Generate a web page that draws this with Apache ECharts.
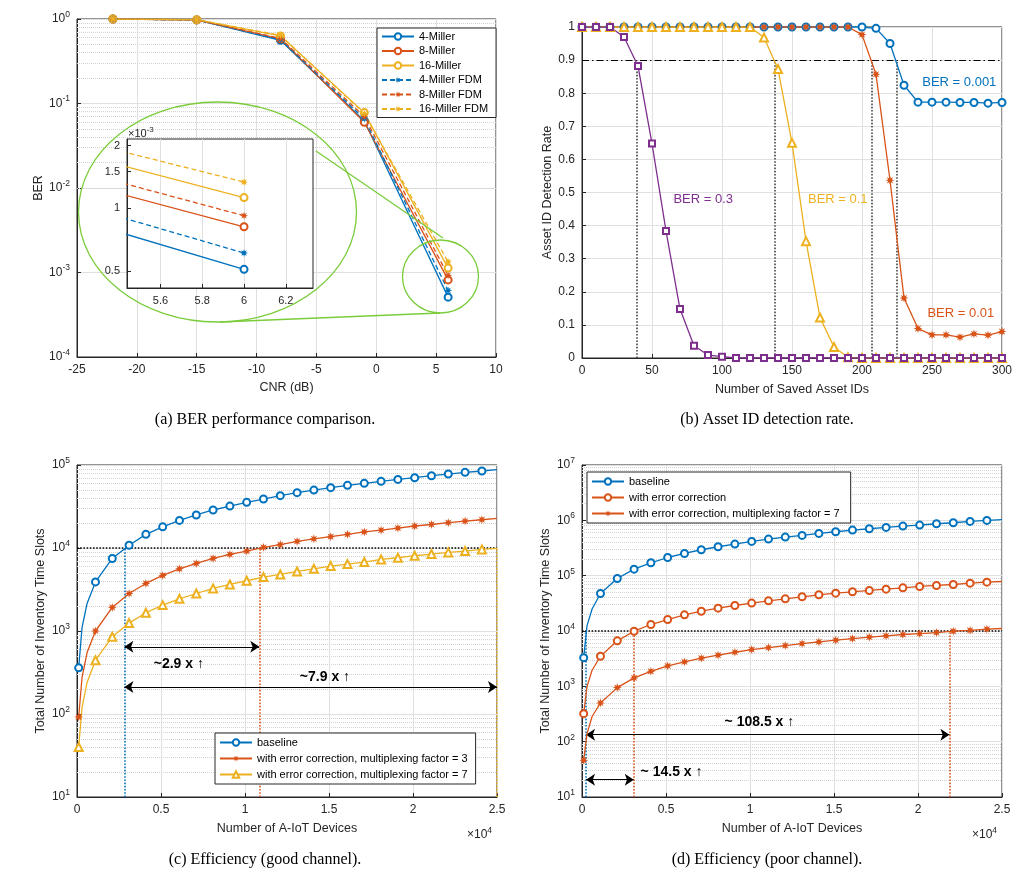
<!DOCTYPE html>
<html>
<head>
<meta charset="utf-8">
<script src="https://cdn.jsdelivr.net/npm/echarts@6/dist/echarts.min.js"></script>
<style>html,body{margin:0;padding:0;background:#fff}#main{width:1020px;height:878px}</style>
</head>
<body>
<div id="main"></div>
<script>
var FONT = '"Liberation Sans", Arial, Helvetica, sans-serif';
var SERIF = '"Liberation Serif", "Times New Roman", serif';
var BLUE = '#0072BD', ORANGE = '#D95319', YELLOW = '#EDB120', PURPLE = '#7E2F8E';
var GREEN = '#7ACC3A', INK = '#262626';

// (a) BER vs CNR
var cnrDb = [-22, -15, -8, -1, 6];
var ber4Miller = [1.0, 0.975, 0.56, 0.062, 0.000511];
var ber8Miller = [1.0, 0.975, 0.58, 0.060, 0.000817];
var ber16Miller = [1.0, 0.98, 0.63, 0.078, 0.001127];
var ber4MillerFdm = [1.0, 0.975, 0.57, 0.066, 0.000612];
var ber8MillerFdm = [1.0, 0.975, 0.59, 0.070, 0.000923];
var ber16MillerFdm = [1.0, 0.98, 0.64, 0.076, 0.001337];
var insetXTicks = [5.6, 5.8, 6, 6.2];
var insetYTicks = [0.0005, 0.001, 0.0015, 0.002];

// (b) asset ID detection rate
var savedIds = [0, 10, 20, 30, 40, 50, 60, 70, 80, 90, 100, 110, 120, 130, 140, 150, 160, 170, 180, 190, 200, 210, 220, 230, 240, 250, 260, 270, 280, 290, 300];
var detBer0001 = [1, 1, 1, 1, 1, 1, 1, 1, 1, 1, 1, 1, 1, 1, 1, 1, 1, 1, 1, 1, 1, 0.996, 0.95, 0.824, 0.773, 0.773, 0.773, 0.772, 0.772, 0.770, 0.772];
var detBer001 = [1, 1, 1, 1, 1, 1, 1, 1, 1, 1, 1, 1, 1, 1, 1, 1, 1, 1, 1, 1, 0.977, 0.857, 0.537, 0.181, 0.089, 0.070, 0.070, 0.063, 0.073, 0.069, 0.080];
var detBer01 = [1, 1, 1, 1, 1, 1, 1, 1, 1, 1, 1, 1, 1, 0.968, 0.873, 0.65, 0.353, 0.122, 0.033, 0.002, 0, 0, 0, 0, 0, 0, 0, 0, 0, 0, 0];
var detBer03 = [1, 1, 1, 0.97, 0.882, 0.648, 0.384, 0.148, 0.037, 0.009, 0.004, 0, 0, 0, 0, 0, 0, 0, 0, 0, 0, 0, 0, 0, 0, 0, 0, 0, 0, 0, 0];
var crossIds = [39, 137.5, 207, 225];
var detThreshold = 0.9;

// (c) / (d) inventory time slots
var devices = [100, 300, 600, 1100, 2100, 3100, 4100, 5100, 6100, 7100, 8100, 9100, 10100, 11100, 12100, 13100, 14100, 15100, 16100, 17100, 18100, 19100, 20100, 21100, 22100, 23100, 24100, 25000];
var goodBaseline = [360, 1100, 2150, 3900, 7480, 10800, 14600, 18000, 21500, 25000, 28700, 32000, 35500, 38900, 42700, 46400, 49900, 53300, 56900, 60100, 63500, 67100, 70300, 74300, 77800, 81600, 84700, 87900];
var goodMux3 = [92, 275, 550, 1000, 1920, 2830, 3740, 4670, 5620, 6520, 7480, 8370, 9190, 10200, 11000, 12000, 12900, 13700, 14600, 15600, 16400, 17400, 18400, 19200, 20200, 21100, 21900, 22800];
var goodMux7 = [40, 120, 240, 445, 850, 1245, 1660, 2050, 2440, 2830, 3260, 3640, 4030, 4460, 4800, 5220, 5620, 6060, 6400, 6770, 7280, 7630, 8070, 8450, 8850, 9190, 9620, 9890];
var poorBaseline = [3300, 12500, 25000, 47600, 89000, 131000, 171000, 213000, 252000, 294000, 333000, 372000, 416000, 458000, 498000, 534000, 580000, 622000, 667000, 705000, 745000, 788000, 821000, 867000, 905000, 957000, 998000, 1026000];
var poorEc = [321, 1000, 1950, 3500, 6640, 9920, 13100, 16100, 19600, 22800, 25900, 28900, 31900, 35100, 38100, 41500, 45100, 48300, 51100, 54000, 57100, 60300, 63800, 66500, 69300, 73300, 76400, 78500];
var poorEcMux7 = [46, 140, 285, 500, 948, 1420, 1870, 2340, 2760, 3220, 3650, 4130, 4620, 5020, 5460, 5930, 6360, 6820, 7310, 7730, 8170, 8640, 9000, 9380, 9910, 10300, 10800, 11100];
var slotTarget = 10000;

// matlab-ish '*' marker as a filled 8 point star
var starPts = [];
for (var k = 0; k < 16; k++) {
  var r = k % 2 ? 0.45 : 1, a = k * Math.PI / 8 - Math.PI / 2;
  starPts.push((10 + 10 * r * Math.cos(a)).toFixed(2) + ',' + (10 + 10 * r * Math.sin(a)).toFixed(2));
}
var ASTERISK = 'path://M' + starPts.join('L') + 'Z';

function pairs(xs, ys) {
  return xs.map(function (x, i) { return [x, ys[i]]; });
}
// markers only every 1000 devices, the other points just shape the curve
function devPairs(ys) {
  return devices.map(function (x, i) {
    var it = { value: [x, ys[i]] };
    if (x % 1000 !== 100) it.symbol = 'none';
    return it;
  });
}
function curve(name, xi, yi, data, color, symbol, size, dashed, z) {
  var filled = symbol === ASTERISK;
  return {
    name: name, type: 'line', xAxisIndex: xi, yAxisIndex: yi, data: data,
    symbol: symbol, symbolSize: size, showAllSymbol: true, z: z || 2,
    lineStyle: { color: color, width: 1.3, type: dashed ? [5, 3] : 'solid' },
    itemStyle: { color: color, borderColor: color, borderWidth: filled ? 0 : 1.3 }
  };
}
function decadeMinors(e0, e1) {
  var out = [];
  for (var e = e0; e <= e1; e++) for (var m = 2; m <= 9; m++) out.push({ yAxis: m * Math.pow(10, e) });
  return out;
}
// grid helpers and annotations; markLine z kept under the legends
function annot(xi, yi, lines, points, z) {
  var s = {
    type: 'line', xAxisIndex: xi, yAxisIndex: yi, data: [], silent: true, z: z || 2,
    markLine: {
      silent: true, z: z || 1, symbol: 'none', animation: false, label: { show: false },
      lineStyle: { type: 'dotted', color: '#d2d2d2', width: 1 }, data: lines
    }
  };
  if (points) {
    s.markPoint = {
      silent: true, symbol: 'circle', symbolSize: 1, itemStyle: { color: 'rgba(0,0,0,0)' },
      label: { show: true, position: 'inside', fontFamily: FONT, fontSize: 13 }, data: points
    };
  }
  return s;
}
function vline(x, y0, y1, color) {
  return [{ coord: [x, y0], lineStyle: { color: color, type: 'dotted', width: 1.6 } }, { coord: [x, y1] }];
}
function arrow(x0, x1, y) {
  return [{ coord: [x0, y], symbol: 'arrow', symbolSize: 9, lineStyle: { color: '#000', type: 'solid', width: 1.2 } },
          { coord: [x1, y], symbol: 'arrow', symbolSize: 9 }];
}
function textAt(x, y, txt, color, size, bold) {
  return { coord: [x, y], label: { formatter: txt, color: color, fontSize: size, fontWeight: bold ? 'bold' : 'normal' } };
}
function powLabel(v) {
  var e = Math.round(Math.log(v) / Math.LN10);
  return '{b|10}{s|' + e + '}';
}
var powRich = {
  b: { fontSize: 12, color: INK, fontFamily: FONT },
  s: { fontSize: 8.5, color: INK, fontFamily: FONT, padding: [0, 0, 9, 0] }
};

function axis(o) {
  var base = {
    axisLine: { show: true, onZero: false, lineStyle: { color: INK, width: 1 } },
    axisTick: { show: true, inside: true, length: 4, lineStyle: { color: INK } },
    axisLabel: { color: INK, fontSize: 12, fontFamily: FONT, margin: 7 },
    splitLine: { show: true, lineStyle: { color: '#e0e0e0', width: 1 } },
    nameLocation: 'middle',
    nameTextStyle: { color: INK, fontSize: 12.5, fontFamily: FONT }
  };
  for (var key in o) {
    if (base[key] && typeof o[key] === 'object' && !Array.isArray(o[key])) base[key] = Object.assign({}, base[key], o[key]);
    else base[key] = o[key];
  }
  return base;
}

var gridBox = { show: true, borderColor: INK, borderWidth: 1, backgroundColor: '#fff' };
var chart = echarts.init(document.getElementById('main'));

var legendCommon = {
  orient: 'vertical', itemWidth: 32, itemHeight: 8, selectedMode: false,
  borderColor: INK, borderWidth: 1, backgroundColor: '#fff', borderRadius: 0,
  textStyle: { fontSize: 11, fontFamily: FONT, color: '#000' }
};

var option = {
  animation: false,
  backgroundColor: '#fff',
  grid: [
    Object.assign({ left: 77, top: 19, width: 419, height: 338 }, gridBox),
    Object.assign({ left: 127, top: 139, width: 186, height: 149, z: 3 }, gridBox),
    Object.assign({ left: 582, top: 27, width: 420, height: 331 }, gridBox),
    Object.assign({ left: 77, top: 465, width: 420, height: 332 }, gridBox),
    Object.assign({ left: 582, top: 465, width: 420, height: 332 }, gridBox)
  ],
  xAxis: [
    axis({ gridIndex: 0, type: 'value', min: -25, max: 10, interval: 5, name: 'CNR (dB)', nameGap: 24 }),
    axis({ gridIndex: 1, type: 'value', min: 5.44, max: 6.33, z: 4, splitLine: { show: false },
      axisLabel: { customValues: insetXTicks, fontSize: 11 },
      axisTick: { customValues: insetXTicks } }),
    axis({ gridIndex: 2, type: 'value', min: 0, max: 300, interval: 50, name: 'Number of Saved Asset IDs', nameGap: 25 }),
    axis({ gridIndex: 3, type: 'value', min: 0, max: 25000, interval: 5000, name: 'Number of A-IoT Devices', nameGap: 25,
      axisLabel: { formatter: function (v) { return String(v / 1e4); } } }),
    axis({ gridIndex: 4, type: 'value', min: 0, max: 25000, interval: 5000, name: 'Number of A-IoT Devices', nameGap: 25,
      axisLabel: { formatter: function (v) { return String(v / 1e4); } } })
  ],
  yAxis: [
    axis({ gridIndex: 0, type: 'log', min: 1e-4, max: 1, name: 'BER', nameGap: 29,
      axisLabel: { formatter: powLabel, rich: powRich } }),
    axis({ gridIndex: 1, type: 'log', min: 0.000416, max: 0.00215, z: 4, splitLine: { show: false },
      axisLabel: { customValues: insetYTicks, fontSize: 11, formatter: function (v) { return String(Math.round(v * 1e4) / 10); } },
      axisTick: { customValues: insetYTicks } }),
    axis({ gridIndex: 2, type: 'value', min: 0, max: 1, interval: 0.1, name: 'Asset ID Detection Rate', nameGap: 28 }),
    axis({ gridIndex: 3, type: 'log', min: 10, max: 1e5, name: 'Total Number of Inventory Time Slots', nameGap: 30,
      axisLabel: { formatter: powLabel, rich: powRich } }),
    axis({ gridIndex: 4, type: 'log', min: 10, max: 1e7, name: 'Total Number of Inventory Time Slots', nameGap: 30,
      axisLabel: { formatter: powLabel, rich: powRich } })
  ],
  legend: [
    Object.assign({ left: 377, top: 28, itemGap: 3.5, padding: [3, 8, 3, 4],
      data: ['4-Miller', '8-Miller', '16-Miller', '4-Miller FDM', '8-Miller FDM', '16-Miller FDM'] }, legendCommon),
    Object.assign({ left: 215, top: 733, itemGap: 5, padding: [4, 8, 4, 4],
      data: ['baseline', 'with error correction, multiplexing factor = 3', 'with error correction, multiplexing factor = 7'] }, legendCommon),
    Object.assign({ left: 587, top: 472, itemGap: 5, padding: [4, 8, 4, 4],
      data: ['baseline ', 'with error correction', 'with error correction, multiplexing factor = 7 '] }, legendCommon)
  ],
  series: [
    // (a)
    annot(0, 0, decadeMinors(-4, -1)),
    curve('4-Miller', 0, 0, pairs(cnrDb, ber4Miller), BLUE, 'emptyCircle', 7),
    curve('8-Miller', 0, 0, pairs(cnrDb, ber8Miller), ORANGE, 'emptyCircle', 7),
    curve('16-Miller', 0, 0, pairs(cnrDb, ber16Miller), YELLOW, 'emptyCircle', 7),
    curve('4-Miller FDM', 0, 0, pairs(cnrDb, ber4MillerFdm), BLUE, ASTERISK, 8, true),
    curve('8-Miller FDM', 0, 0, pairs(cnrDb, ber8MillerFdm), ORANGE, ASTERISK, 8, true),
    curve('16-Miller FDM', 0, 0, pairs(cnrDb, ber16MillerFdm), YELLOW, ASTERISK, 8, true),
    // (a) inset
    annot(1, 1, [0.0005, 0.0006, 0.0007, 0.0008, 0.0009, 0.002].map(function (v) { return { yAxis: v }; })
      .concat([{ yAxis: 0.001, lineStyle: { type: 'solid', color: '#e0e0e0' } }])
      .concat(insetXTicks.map(function (v) { return { xAxis: v, lineStyle: { type: 'solid', color: '#e0e0e0' } }; })), null, 4),
    curve('4-Miller', 1, 1, pairs(cnrDb, ber4Miller), BLUE, 'emptyCircle', 7, false, 5),
    curve('8-Miller', 1, 1, pairs(cnrDb, ber8Miller), ORANGE, 'emptyCircle', 7, false, 5),
    curve('16-Miller', 1, 1, pairs(cnrDb, ber16Miller), YELLOW, 'emptyCircle', 7, false, 5),
    curve('4-Miller FDM', 1, 1, pairs(cnrDb, ber4MillerFdm), BLUE, ASTERISK, 8, true, 5),
    curve('8-Miller FDM', 1, 1, pairs(cnrDb, ber8MillerFdm), ORANGE, ASTERISK, 8, true, 5),
    curve('16-Miller FDM', 1, 1, pairs(cnrDb, ber16MillerFdm), YELLOW, ASTERISK, 8, true, 5),
    // (b)
    annot(2, 2, [{ yAxis: detThreshold, lineStyle: { type: [7, 3, 1.5, 3], color: '#000', width: 1.2 } }]
      .concat(crossIds.map(function (x) { return vline(x, 0, detThreshold, '#444'); })), [
        textAt(86.6, 0.48, 'BER = 0.3', PURPLE, 13),
        textAt(182.7, 0.48, 'BER = 0.1', YELLOW, 13),
        textAt(269.5, 0.833, 'BER = 0.001', BLUE, 13),
        textAt(270.6, 0.134, 'BER = 0.01', ORANGE, 13)
      ]),
    curve('BER = 0.001', 2, 2, pairs(savedIds, detBer0001), BLUE, 'emptyCircle', 7),
    curve('BER = 0.01', 2, 2, pairs(savedIds, detBer001), ORANGE, ASTERISK, 9),
    curve('BER = 0.1', 2, 2, pairs(savedIds, detBer01), YELLOW, 'emptyTriangle', 8),
    curve('BER = 0.3', 2, 2, pairs(savedIds, detBer03), PURPLE, 'emptyRect', 6),
    // (c)
    annot(3, 3, decadeMinors(1, 4).concat([
        { yAxis: slotTarget, lineStyle: { type: 'dotted', color: '#000', width: 1.6 } },
        vline(2820, 10, slotTarget, BLUE),
        vline(10850, 10, slotTarget, ORANGE),
        vline(25000, 10, slotTarget, YELLOW),
        arrow(2820, 10850, 644),
        arrow(2820, 25000, 212)
      ]), [
        textAt(6060, 398, '~2.9 x \u2191', '#000', 14, true),
        textAt(14760, 275, '~7.9 x \u2191', '#000', 14, true)
      ]),
    curve('baseline', 3, 3, devPairs(goodBaseline), BLUE, 'emptyCircle', 7),
    curve('with error correction, multiplexing factor = 3', 3, 3, devPairs(goodMux3), ORANGE, ASTERISK, 9),
    curve('with error correction, multiplexing factor = 7', 3, 3, devPairs(goodMux7), YELLOW, 'emptyTriangle', 8),
    // (d)
    annot(4, 4, decadeMinors(1, 6).concat([
        { yAxis: slotTarget, lineStyle: { type: 'dotted', color: '#000', width: 1.6 } },
        vline(240, 10, slotTarget, BLUE),
        vline(3080, 10, slotTarget, ORANGE),
        vline(21870, 10, slotTarget, ORANGE),
        arrow(240, 21870, 134),
        arrow(240, 3080, 20.5)
      ]), [
        textAt(10560, 227, '~ 108.5 x \u2191', '#000', 14, true),
        textAt(5330, 28.3, '~ 14.5 x \u2191', '#000', 14, true)
      ]),
    curve('baseline ', 4, 4, devPairs(poorBaseline), BLUE, 'emptyCircle', 7),
    curve('with error correction', 4, 4, devPairs(poorEc), ORANGE, 'emptyCircle', 7),
    curve('with error correction, multiplexing factor = 7 ', 4, 4, devPairs(poorEcMux7), ORANGE, ASTERISK, 9)
  ],
  graphic: [
    { type: 'ellipse', silent: true, z: 6, shape: { cx: 217.5, cy: 212, rx: 139, ry: 110 }, style: { fill: 'none', stroke: GREEN, lineWidth: 1.3 } },
    { type: 'ellipse', silent: true, z: 6, shape: { cx: 440.5, cy: 276.5, rx: 38, ry: 36.5 }, style: { fill: 'none', stroke: GREEN, lineWidth: 1.3 } },
    { type: 'line', silent: true, z: 6, shape: { x1: 316, y1: 151, x2: 443, y2: 238 }, style: { stroke: GREEN, lineWidth: 1.3 } },
    { type: 'line', silent: true, z: 6, shape: { x1: 220, y1: 322, x2: 440, y2: 313 }, style: { stroke: GREEN, lineWidth: 1.3 } },
    { type: 'text', silent: true, z: 6, x: 128, y: 126, style: { text: '\u00d710{s|-3}', fill: INK, font: '11px ' + FONT,
      rich: { s: { fontSize: 8, fill: INK, fontFamily: FONT, padding: [0, 0, 8, 0] } } } },
    { type: 'text', silent: true, x: 467, y: 826, style: { text: '\u00d710{s|4}', fill: INK, font: '12px ' + FONT,
      rich: { s: { fontSize: 8.5, fill: INK, fontFamily: FONT, padding: [0, 0, 9, 0] } } } },
    { type: 'text', silent: true, x: 972, y: 826, style: { text: '\u00d710{s|4}', fill: INK, font: '12px ' + FONT,
      rich: { s: { fontSize: 8.5, fill: INK, fontFamily: FONT, padding: [0, 0, 9, 0] } } } },
    { type: 'text', silent: true, x: 265, y: 420, style: { text: '(a) BER performance comparison.', fill: '#000', font: '16px ' + SERIF, align: 'center', verticalAlign: 'middle' } },
    { type: 'text', silent: true, x: 767, y: 420, style: { text: '(b) Asset ID detection rate.', fill: '#000', font: '16px ' + SERIF, align: 'center', verticalAlign: 'middle' } },
    { type: 'text', silent: true, x: 265, y: 860, style: { text: '(c) Efficiency (good channel).', fill: '#000', font: '16px ' + SERIF, align: 'center', verticalAlign: 'middle' } },
    { type: 'text', silent: true, x: 767, y: 860, style: { text: '(d) Efficiency (poor channel).', fill: '#000', font: '16px ' + SERIF, align: 'center', verticalAlign: 'middle' } }
  ]
};
chart.setOption(option);
</script>
</body>
</html>
